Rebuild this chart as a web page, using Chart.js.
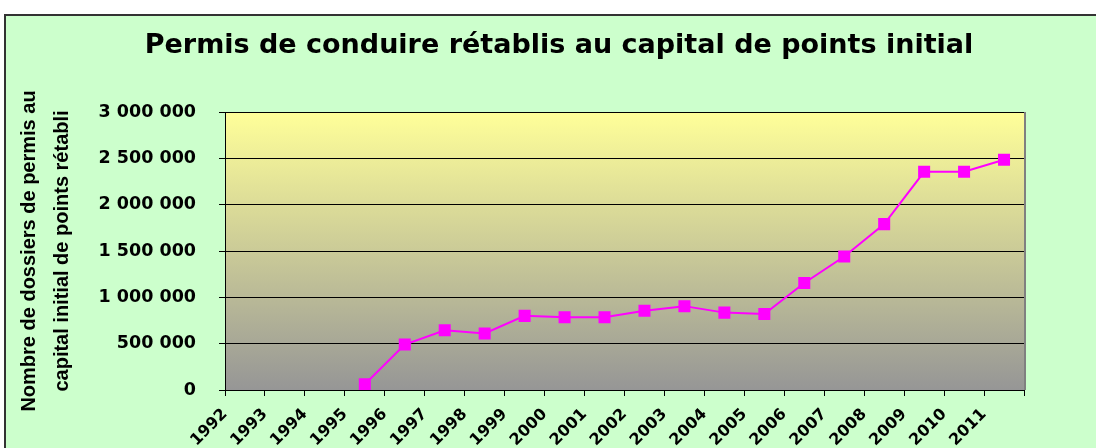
<!DOCTYPE html>
<html>
<head>
<meta charset="utf-8">
<script src="https://cdn.jsdelivr.net/npm/chart.js@4/dist/chart.umd.min.js"></script>
<style>
  html, body { margin: 0; padding: 0; background: #fff; }
  #wrap { width: 1096px; height: 448px; }
</style>
</head>
<body>
<div id="wrap"><canvas id="permisChart" width="1096" height="448"></canvas></div>
<script>
// --- data ---
const years = ["1992", "1993", "1994", "1995", "1996", "1997", "1998", "1999", "2000", "2001",
               "2002", "2003", "2004", "2005", "2006", "2007", "2008", "2009", "2010", "2011"];
const permisRetablis = [null, null, null, 62000, 490000, 645000, 610000, 800000, 785000, 785000,
                        855000, 905000, 835000, 820000, 1155000, 1440000, 1790000, 2355000, 2355000, 2485000];
const yTicks = [0, 500000, 1000000, 1500000, 2000000, 2500000, 3000000];

const chartTitle = "Permis de conduire rétablis au capital de points initial";
const yTitle = ["Nombre de dossiers de permis au", "capital initial de points rétabli"];

const WIDE = "'DejaVu Sans', Verdana, sans-serif";
const ARIAL = "'Liberation Sans', Arial, sans-serif";

function formatSpaces(v) {
    return String(v).replace(/\B(?=(\d{3})+(?!\d))/g, " ");
}

// background, frame, plot area gradient and the title
const backdrop = {
    id: "backdrop",
    beforeDraw(chart) {
        const ctx = chart.ctx;
        const a = chart.chartArea;
        ctx.save();
        ctx.fillStyle = "#ffffff";
        ctx.fillRect(0, 0, chart.width, chart.height);
        ctx.fillStyle = "#ccffcc";
        ctx.fillRect(4, 14, chart.width, chart.height);
        ctx.strokeStyle = "#333333";
        ctx.lineWidth = 2;
        ctx.beginPath();
        ctx.moveTo(5, chart.height);
        ctx.lineTo(5, 15);
        ctx.lineTo(chart.width, 15);
        ctx.stroke();

        let grad = ctx.createLinearGradient(0, a.top, 0, a.bottom);
        grad.addColorStop(0, "#ffff99");
        grad.addColorStop(1, "#969696");
        ctx.fillStyle = grad;
        ctx.fillRect(a.left, a.top, a.right - a.left, a.bottom - a.top);
        ctx.strokeStyle = "#808080";
        ctx.lineWidth = 2;
        ctx.beginPath();
        ctx.moveTo(a.right + 1, a.top);
        ctx.lineTo(a.right + 1, a.bottom);
        ctx.stroke();

        ctx.fillStyle = "#000";
        ctx.font = "bold 27px " + WIDE;
        ctx.textAlign = "center";
        ctx.textBaseline = "middle";
        ctx.fillText(chartTitle, 559, 46);
        ctx.restore();
    }
};

let ctx = document.getElementById("permisChart").getContext("2d");
let permisChart = new Chart(ctx, {
    type: "line",
    data: {
        labels: years,
        datasets: [{
            data: permisRetablis,
            borderColor: "#ff00ff",
            backgroundColor: "#ff00ff",
            borderWidth: 2,
            pointStyle: "rect",
            pointRadius: 8.5,
            pointBorderWidth: 0,
            spanGaps: false,
            tension: 0
        }]
    },
    options: {
        responsive: false,
        animation: false,
        layout: {
            padding: { left: 5, top: 112, right: 72, bottom: 0 }
        },
        plugins: {
            legend: { display: false },
            tooltip: { enabled: false },
            title: { display: false }
        },
        scales: {
            x: {
                offset: true,
                afterFit: (s) => { s.height = 58; },
                border: { color: "#000", width: 1 },
                grid: {
                    offset: true,
                    drawOnChartArea: false,
                    drawTicks: true,
                    tickLength: 6,
                    color: "#000"
                },
                ticks: {
                    autoSkip: false,
                    minRotation: 45,
                    maxRotation: 45,
                    labelOffset: -20,
                    padding: 9,
                    color: "#000",
                    font: { family: WIDE, size: 16, weight: "bold" }
                }
            },
            y: {
                min: 0,
                max: 3000000,
                afterFit: (s) => { s.width = 220; },
                afterBuildTicks: (s) => { s.ticks = yTicks.map(v => ({ value: v })); },
                border: { color: "#000", width: 1 },
                grid: {
                    color: "#000",
                    lineWidth: 1,
                    tickLength: 6
                },
                ticks: {
                    padding: 23,
                    color: "#000",
                    font: { family: WIDE, size: 17.5, weight: "bold" },
                    callback: (v) => formatSpaces(v)
                },
                title: {
                    display: true,
                    text: yTitle,
                    color: "#000",
                    padding: { top: 7.5, bottom: 0 },
                    font: { family: ARIAL, size: 20, weight: "bold", lineHeight: 1.65 }
                }
            }
        }
    },
    plugins: [backdrop]
});
</script>
</body>
</html>
